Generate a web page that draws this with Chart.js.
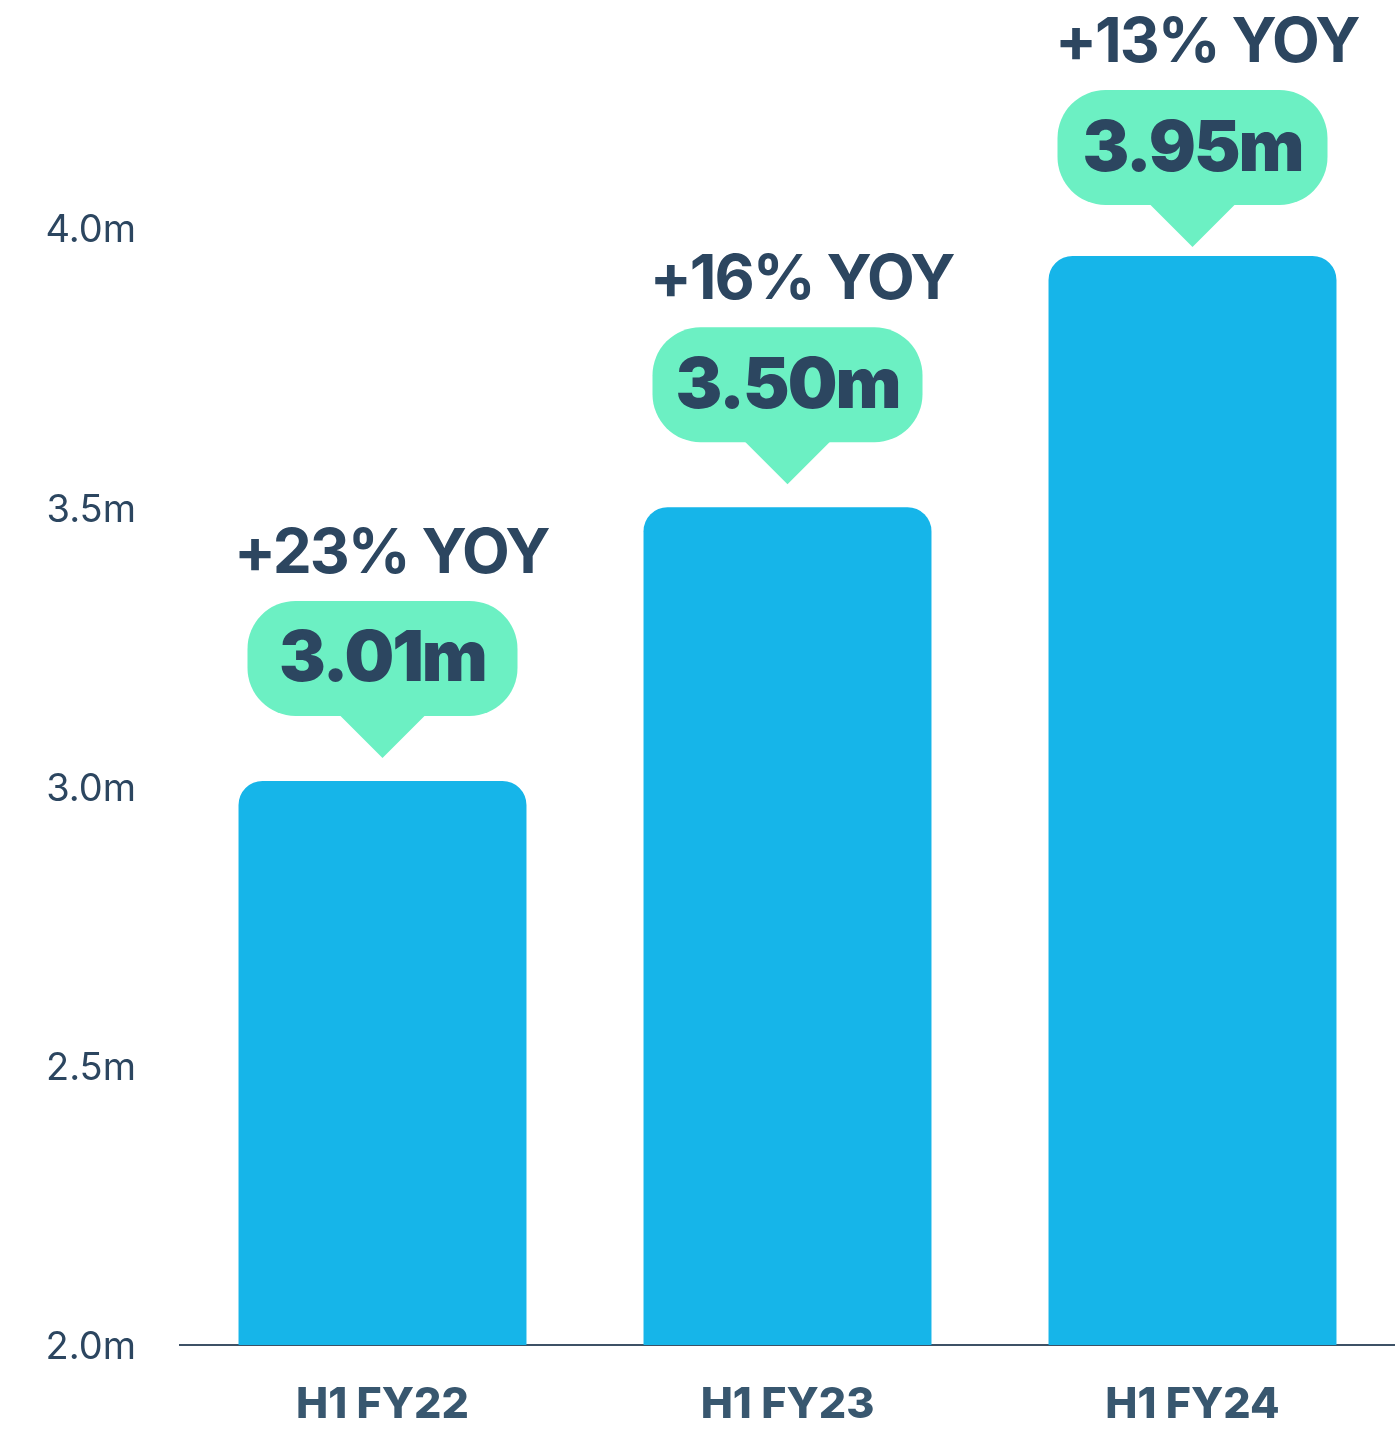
<!DOCTYPE html>
<html>
<head>
<meta charset="utf-8">
<script src="https://cdn.jsdelivr.net/npm/chart.js@4.4.1/dist/chart.umd.min.js"></script>
<style>
    html, body { margin: 0; padding: 0; background: #ffffff; }
    #wrap { width: 1395px; height: 1429px; }
</style>
</head>
<body>
<div id="wrap"><canvas id="myChart"></canvas></div>
<script>
    // du lieu bieu do
    var labels = ["H1 FY22", "H1 FY23", "H1 FY24"];
    var values = [3.01, 3.50, 3.95];
    var valueLabels = ["3.01m", "3.50m", "3.95m"];
    var growthLabels = ["+23% YOY", "+16% YOY", "+13% YOY"];
    var yTicks = [2.0, 2.5, 3.0, 3.5, 4.0];

    var textColor = "#2c4660";

    // ve bong bong xanh + chu YOY tren moi cot
    var bubblePlugin = {
        id: "bubbles",
        afterDatasetsDraw: function (chart) {
            var ctx = chart.ctx;
            var meta = chart.getDatasetMeta(0);
            meta.data.forEach(function (bar, i) {
                var x = bar.x;
                var h = 115, w = 270, r = 48;
                var tipY = bar.y - 23;
                var baseY = tipY - 42;
                var top = baseY - h;
                // khong cho bong bong tran ra khoi mep tren
                if (top < 90) {
                    var shift = 90 - top;
                    top += shift;
                    baseY += shift;
                    tipY += shift;
                }
                var left = x - w / 2;

                ctx.save();
                ctx.fillStyle = "#6cf0c3";
                ctx.beginPath();
                ctx.roundRect(left, top, w, h, r);
                ctx.fill();
                ctx.beginPath();
                ctx.moveTo(x - 43, baseY - 1);
                ctx.lineTo(x + 43, baseY - 1);
                ctx.lineTo(x, tipY);
                ctx.closePath();
                ctx.fill();

                ctx.fillStyle = textColor;
                ctx.textAlign = "center";
                ctx.textBaseline = "middle";
                ctx.letterSpacing = "-2px";
                ctx.font = "900 70px Inter";
                ctx.fillText(valueLabels[i], x, top + h / 2 + 2);

                ctx.textAlign = "right";
                ctx.textBaseline = "alphabetic";
                ctx.font = "700 62px Inter";
                ctx.fillText(growthLabels[i], left + w + 31, top - 28);
                ctx.restore();
            });
        }
    };

    var ctx = document.getElementById("myChart");

    var chart = new Chart(ctx, {
        type: "bar",
        data: {
            labels: labels,
            datasets: [{
                data: values,
                backgroundColor: "#16b5e9",
                borderRadius: { topLeft: 24, topRight: 24 },
                borderSkipped: "bottom",
                categoryPercentage: 1,
                barPercentage: 0.711
            }]
        },
        options: {
            responsive: true,
            maintainAspectRatio: false,
            animation: false,
            layout: { padding: { top: 228, right: 0, left: 0, bottom: 0 } },
            plugins: {
                legend: { display: false },
                tooltip: { enabled: false }
            },
            scales: {
                x: {
                    grid: { display: false, drawTicks: false },
                    border: { display: true, color: "#3d5166", width: 2 },
                    ticks: {
                        color: "#38576f",
                        padding: 34,
                        font: { family: "Inter", size: 43, weight: "800" }
                    },
                    afterFit: function (scale) { scale.height = 84; }
                },
                y: {
                    min: 2,
                    max: 4,
                    afterBuildTicks: function (scale) {
                        scale.ticks = yTicks.map(function (v) { return { value: v }; });
                    },
                    grid: { display: false, drawTicks: false },
                    border: { display: false },
                    ticks: {
                        color: textColor,
                        padding: 44,
                        labelOffset: 3,
                        font: { family: "Inter", size: 38, weight: "400" },
                        callback: function (v) { return v.toFixed(1) + "m"; }
                    },
                    afterFit: function (scale) { scale.width = 180; }
                }
            }
        },
        plugins: [bubblePlugin]
    });
</script>
</body>
</html>
